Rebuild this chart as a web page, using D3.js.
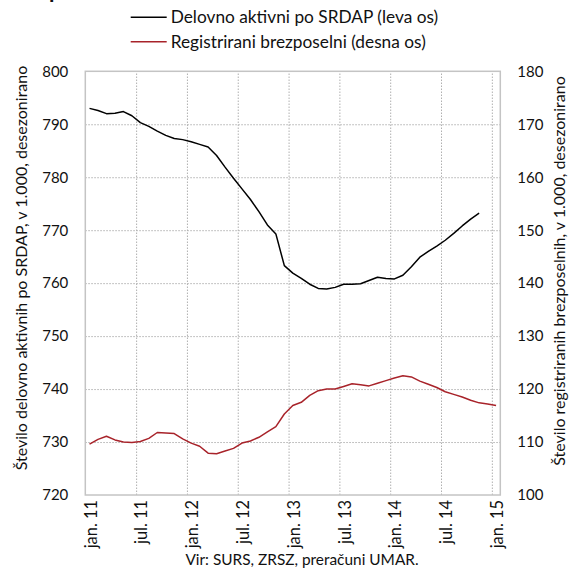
<!DOCTYPE html>
<html><head><meta charset="utf-8">
<script src="https://cdn.jsdelivr.net/npm/d3@7"></script>
<style>
html,body{margin:0;padding:0;background:#fff;}
svg text{font-family:Lato,"Liberation Sans",sans-serif;fill:#111;}
</style></head>
<body><svg id="c" width="576" height="570"></svg>
<script>
const tickLabels = ["jan. 11","jul. 11","jan. 12","jul. 12","jan. 13","jul. 13","jan. 14","jul. 14","jan. 15"];
const leftTicks = [720,730,740,750,760,770,780,790,800];
const rightTicks = [100,110,120,130,140,150,160,170,180];
// Jan 2011 - Nov 2014, thousands
const employed = [793.0,792.6,792.0,792.1,792.4,791.6,790.3,789.6,788.7,787.9,787.3,787.1,
786.7,786.2,785.7,784.1,781.9,779.8,777.8,775.8,773.5,771.0,769.3,763.3,
761.9,760.9,759.8,759.0,758.9,759.2,759.8,759.8,759.9,760.5,761.1,760.9,
760.8,761.5,763.1,764.9,766.0,767.0,768.1,769.4,770.8,772.1,773.2];
// Jan 2011 - Jan 2015, thousands
const unemployed = [109.6,110.5,111.1,110.4,110.0,109.9,110.1,110.7,111.8,111.7,111.6,110.6,
109.8,109.2,107.9,107.8,108.3,108.8,109.8,110.2,110.9,111.9,112.9,115.3,
116.9,117.5,118.8,119.7,120.0,120.0,120.5,121.0,120.8,120.6,121.1,121.6,
122.1,122.5,122.3,121.5,120.9,120.3,119.5,119.0,118.5,117.9,117.4,117.2,
116.9];
const seriesNames = ["Delovno aktivni po SRDAP (leva os)","Registrirani brezposelni (desna os)"];
const leftTitle = "Število delovno aktivnih po SRDAP, v 1.000, desezonirano";
const rightTitle = "Število registriranih brezposelnih, v 1.000, desezonirano";
const source = "Vir: SURS, ZRSZ, preračuni UMAR.";

const svg = d3.select("#c");
const L=85.3, R=500.3, T=71.3, B=495;
const x = d3.scaleLinear().domain([0,49]).range([L,R]);
const yL = d3.scaleLinear().domain([720,800]).range([B,T]);
const yR = d3.scaleLinear().domain([100,180]).range([B,T]);
const gridCol="#b0b0b0", frameCol="#c4c4c4";

// horizontal grid
const gh = svg.append("g").attr("transform",`translate(${L},0)`)
  .call(d3.axisLeft(yL).tickValues(leftTicks.slice(1,-1)).tickSize(-(R-L)).tickFormat(""));
gh.select(".domain").remove();
gh.selectAll("line").attr("stroke",gridCol).attr("stroke-dasharray","1.5,1.5");
// vertical grid
const gv = svg.append("g").attr("transform",`translate(0,${B})`)
  .call(d3.axisBottom(x).tickValues(d3.range(6,49,6)).tickSize(-(B-T)).tickFormat(""));
gv.select(".domain").remove();
gv.selectAll("line").attr("stroke",gridCol).attr("stroke-dasharray","1.5,1.5");

// frame
svg.append("rect").attr("x",L).attr("y",T).attr("width",R-L).attr("height",B-T)
  .attr("fill","none").attr("stroke",frameCol).attr("stroke-width",1.5);

// left axis
const ax1 = svg.append("g").attr("transform",`translate(${L},0)`)
  .call(d3.axisLeft(yL).tickValues(leftTicks).tickSize(0).tickPadding(17).tickFormat(d3.format("d")));
ax1.select(".domain").remove();
ax1.selectAll("text").style("font-size","15px");
// right axis
const ax2 = svg.append("g").attr("transform",`translate(${R},0)`)
  .call(d3.axisRight(yR).tickValues(rightTicks).tickSize(0).tickPadding(17).tickFormat(d3.format("d")));
ax2.select(".domain").remove();
ax2.selectAll("text").style("font-size","15px");
// bottom axis
const ax3 = svg.append("g").attr("transform",`translate(0,${B})`)
  .call(d3.axisBottom(x).tickValues(d3.range(0,49,6).map(d=>d+0.5)).tickSize(0)
    .tickFormat((d,i)=>tickLabels[i]));
ax3.select(".domain").remove();
ax3.selectAll("text").style("font-size","16.4px")
  .attr("transform","rotate(-90)").attr("text-anchor","end")
  .attr("x",-5).attr("y",0).attr("dy","0.4em");

// lines
const lineL = d3.line().x((d,i)=>x(i+0.5)).y(d=>yL(d));
const lineR = d3.line().x((d,i)=>x(i+0.5)).y(d=>yR(d));
svg.append("path").datum(employed).attr("d",lineL).attr("fill","none")
  .attr("stroke","#000").attr("stroke-width",1.5).attr("stroke-linejoin","round");
svg.append("path").datum(unemployed).attr("d",lineR).attr("fill","none")
  .attr("stroke","#a8232a").attr("stroke-width",1.5).attr("stroke-linejoin","round");

// legend
const cols=["#000","#a8232a"];
seriesNames.forEach((n,i)=>{
  const yy = 17.3 + i*24.4;
  svg.append("line").attr("x1",130.7).attr("x2",166.7).attr("y1",yy).attr("y2",yy)
    .attr("stroke",cols[i]).attr("stroke-width",1.5);
  svg.append("text").attr("x",170.7).attr("y",yy).attr("dy","0.35em")
    .style("font-size","17.3px").text(n);
});

// axis titles
svg.append("text").attr("transform","translate(27,268) rotate(-90)")
  .attr("text-anchor","middle").style("font-size","16px").text(leftTitle);
svg.append("text").attr("transform","translate(565,271) rotate(-90)")
  .attr("text-anchor","middle").style("font-size","16px").text(rightTitle);
// source
svg.append("text").attr("x",302).attr("y",565).attr("text-anchor","middle")
  .style("font-size","15.4px").text(source);
// clipped title remnant
svg.append("text").attr("x",49).attr("y",-2).style("font-size","22px").style("font-weight","bold").text("p");
</script></body></html>
